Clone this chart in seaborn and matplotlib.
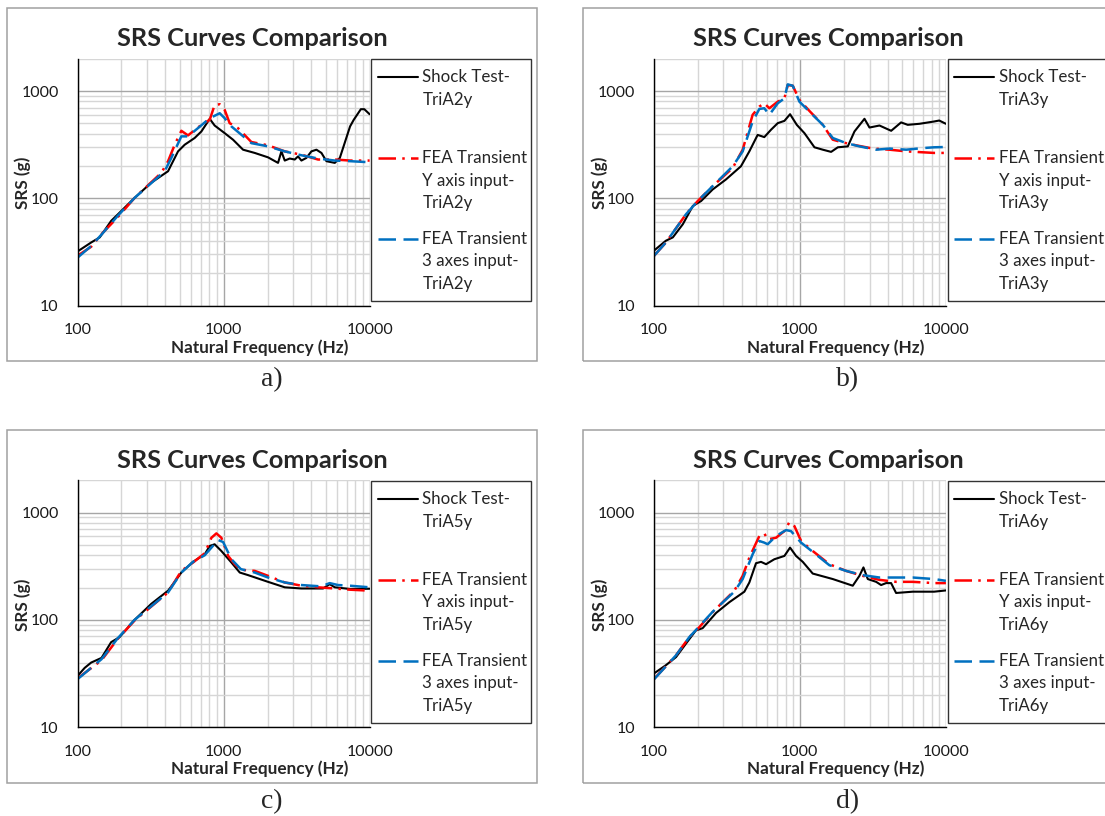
import numpy as np
import pandas as pd
import matplotlib
matplotlib.use("Agg")
import matplotlib.pyplot as plt
from matplotlib.patches import Rectangle
from matplotlib.lines import Line2D
from matplotlib.ticker import FixedLocator, FixedFormatter, NullFormatter
import seaborn as sns

# ---------------------------------------------------------------- data
# Shock response spectra, natural frequency (Hz) vs SRS (g)

# a) TriA2y
a_test_f = [100, 124, 142, 170, 189, 246, 320, 417, 439, 488, 542, 634, 705, 804, 869, 1018,
            1161, 1360, 1634, 2017, 2361, 2490, 2624, 2840, 3071, 3238, 3413, 3690, 3996,
            4325, 4680, 5063, 5776, 6253, 7350, 7780, 8710, 9200, 10000]
a_test_g = [32, 38.8, 43.3, 61.7, 71, 101, 140, 179, 206, 274, 316, 365, 420, 551, 477, 405,
            352, 284, 265, 241, 214, 274, 225, 235, 230, 246, 225, 238, 274,
            284, 265, 222, 214, 238, 468, 538, 677, 677, 608]
a_fy_f = [100, 124, 146, 189, 246, 375, 417, 463, 514, 571, 705, 804, 869, 942, 1018, 1101,
          1256, 1550, 2017, 2624, 3413, 4436, 5776, 7350, 10000]
a_fy_g = [29.2, 35.4, 46.4, 67, 101, 173, 222, 316, 426, 386, 484, 539, 741, 753, 667, 502,
          451, 335, 312, 274, 255, 230, 230, 225, 225]
a_f3_f = [100, 124, 146, 189, 246, 395, 439, 514, 571, 668, 804, 942, 1018, 1132, 1550, 2017,
          2624, 3413, 4436, 5776, 7350, 10000]
a_f3_g = [28, 36, 46, 69, 101, 179, 238, 378, 378, 451, 558, 621, 558, 468, 327, 305,
          274, 252, 235, 225, 222, 217]

# b) TriA3y
b_test_f = [100, 121, 135, 158, 185, 211, 253, 312, 395, 451, 514, 571, 635, 706, 784, 857,
            953, 1075, 1259, 1436, 1637, 1820, 2130, 2366, 2770, 2997, 3510, 4220, 4935,
            5480, 6590, 8300, 9000, 10000]
b_test_g = [32.5, 40.3, 43.3, 57.4, 84.9, 94.5, 121, 150, 199, 274, 390, 372, 436, 502, 527, 608,
            484, 405, 299, 284, 271, 299, 305, 420, 551, 457, 477, 426, 510,
            484, 495, 520, 531, 495]
b_fy_f = [100, 121, 166, 200, 253, 347, 406, 475, 528, 571, 618, 706, 784, 826, 894, 993,
          1162, 1436, 1680, 1967, 2428, 3160, 4110, 5350, 8300, 10000]
b_fy_g = [29, 38.8, 71, 94.5, 130, 192, 284, 600, 716, 769, 691, 796, 855, 1136, 1120, 826,
          653, 484, 352, 332, 312, 291, 284, 274, 265, 265]
b_f3_f = [100, 121, 166, 200, 253, 347, 406, 475, 528, 571, 618, 706, 784, 826, 894, 993,
          1162, 1436, 1680, 2075, 2560, 3330, 4110, 5350, 6950, 8300, 10000]
b_f3_g = [29, 38.8, 71, 94.5, 130, 199, 274, 520, 681, 691, 600, 769, 855, 1153, 1120, 796,
          643, 484, 365, 327, 305, 284, 291, 284, 294, 299, 301]

# c) TriA5y
c_test_f = [100, 112, 124, 146, 170, 194, 246, 320, 417, 463, 514, 618, 743, 804, 869, 966,
            1132, 1291, 1473, 2017, 2624, 3413, 4800, 5330, 5776, 7350, 10000]
c_test_g = [30, 35.7, 40, 44.2, 62, 69, 100, 141, 187, 226, 276, 347, 408, 488, 506, 438,
            342, 276, 261, 226, 201, 196, 196, 215, 201, 194, 195]
c_fy_f = [100, 146, 189, 246, 417, 514, 618, 743, 826, 893, 966, 1075, 1192, 1313, 1634,
          2017, 2624, 3413, 4436, 5776, 7350, 10000]
c_fy_g = [28.5, 42, 66.7, 98.6, 180, 286, 342, 417, 582, 639, 582, 394, 330, 293, 286,
          257, 223, 208, 201, 196, 191, 187]
c_f3_f = [100, 146, 189, 246, 417, 514, 618, 743, 826, 916, 993, 1132, 1313, 1634, 2017,
          2624, 3413, 4680, 5330, 6080, 7350, 10000]
c_f3_g = [28, 43, 67.6, 100, 180, 276, 347, 400, 471, 555, 531, 367, 297, 276, 248,
          223, 211, 205, 220, 211, 208, 201]

# d) TriA6y
d_test_f = [100, 121, 142, 166, 194, 216, 267, 329, 417, 451, 501, 542, 587, 669, 784, 857,
            942, 1047, 1225, 1680, 2303, 2558, 2725, 2918, 3330, 3600, 3894, 4215, 4560,
            5930, 8300, 10000]
d_test_g = [31.6, 37.8, 45, 60, 79.6, 83.7, 116, 146, 183, 223, 337, 347, 330, 367, 394, 471,
            394, 347, 270, 240, 208, 257, 308, 240, 226, 211, 220, 220, 178,
            183, 183, 188]
d_fy_f = [100, 142, 175, 205, 253, 356, 406, 451, 528, 571, 602, 687, 784, 848, 918, 1020,
          1225, 1592, 2070, 2693, 3506, 4560, 5930, 8300, 10000]
d_fy_g = [28, 46.8, 69, 85.5, 118, 187, 257, 380, 604, 639, 562, 582, 671, 813, 747, 543,
          438, 330, 286, 257, 236, 226, 226, 220, 220]
d_f3_f = [100, 142, 175, 205, 253, 356, 406, 475, 528, 571, 602, 687, 804, 870, 1020, 1225,
          1592, 2070, 2693, 3506, 4560, 5930, 8300, 10000]
d_f3_g = [27.8, 46.8, 69, 87, 119, 183, 240, 408, 543, 524, 506, 604, 686, 671, 524, 430,
          323, 286, 261, 248, 248, 248, 240, 231]

panel_letters = ["a)", "b)", "c)", "d)"]
panel_codes = ["TriA2y", "TriA3y", "TriA5y", "TriA6y"]
series_names = ["Shock Test", "FEA Transient Y axis input", "FEA Transient 3 axes input"]
legend_lines = [["Shock Test-", "{}"],
                ["FEA Transient", "Y axis input-", "{}"],
                ["FEA Transient", "3 axes input-", "{}"]]

x_major = [100, 1000, 10000]
x_minor = [200, 300, 400, 500, 600, 700, 800, 900,
           2000, 3000, 4000, 5000, 6000, 7000, 8000, 9000]
y_major = [10, 100, 1000]
y_minor = [20, 30, 40, 50, 60, 70, 80, 90,
           200, 300, 400, 500, 600, 700, 800, 900, 2000]

panel_data = [
    [(a_test_f, a_test_g), (a_fy_f, a_fy_g), (a_f3_f, a_f3_g)],
    [(b_test_f, b_test_g), (b_fy_f, b_fy_g), (b_f3_f, b_f3_g)],
    [(c_test_f, c_test_g), (c_fy_f, c_fy_g), (c_f3_f, c_f3_g)],
    [(d_test_f, d_test_g), (d_fy_f, d_fy_g), (d_f3_f, d_f3_g)],
]

# ---------------------------------------------------------------- styles
styles = [
    dict(color="black", lw=1.5, linestyle="-"),
    dict(color="#FF0000", lw=1.8, linestyle=(0, (7, 2.5, 1, 2.5))),
    dict(color="#0070C0", lw=1.8, linestyle=(0, (7, 3))),
]

sns.set_style("white")
plt.rcParams["font.family"] = ["Lato", "DejaVu Sans"]

W, H = 1105, 816
fig = plt.figure(figsize=(W / 100, H / 100), dpi=100)
fig.patch.set_facecolor("white")


def fx(px):
    return px / W


def fy(py):
    return 1 - py / H


DX, DY = 576.3, 421.5
legend_y = [[77.3, 100.0], [158.3, 181.0, 203.3], [239.0, 261.3, 284.0]]

for i in range(4):
    col, row = i % 2, i // 2
    ox, oy = col * DX, row * DY

    # chart-area frame
    fig.add_artist(Rectangle((fx(7.1 + ox), fy(361 + oy)), (536.8 - 7.1) / W, (361 - 8.3) / H,
                             transform=fig.transFigure, fill=False, ec="#A0A0A0", lw=1.1))

    ax = fig.add_axes([fx(77.5 + ox), fy(305.7 + oy), (369.6 - 77.5) / W, (305.7 - 58.7) / H])
    ax.set_xscale("log")
    ax.set_yscale("log")

    for (f, g), name, st in zip(panel_data[i], series_names, styles):
        df = pd.DataFrame({"freq": f, "srs": g})
        sns.lineplot(data=df, x="freq", y="srs", ax=ax, estimator=None, sort=False,
                     color=st["color"], lw=st["lw"], linestyle=st["linestyle"], label=None)

    ax.set_xlim(100, 10000)
    ax.set_ylim(10, 2000)
    ax.xaxis.set_major_locator(FixedLocator(x_major))
    ax.xaxis.set_major_formatter(FixedFormatter([str(v) for v in x_major]))
    ax.xaxis.set_minor_locator(FixedLocator(x_minor))
    ax.xaxis.set_minor_formatter(NullFormatter())
    ax.yaxis.set_major_locator(FixedLocator(y_major))
    ax.yaxis.set_major_formatter(FixedFormatter([str(v) for v in y_major]))
    ax.yaxis.set_minor_locator(FixedLocator(y_minor))
    ax.yaxis.set_minor_formatter(NullFormatter())

    ax.grid(True, which="major", color="#A6A6A6", lw=1.0)
    ax.grid(True, which="minor", color="#D6D6D6", lw=1.0)
    ax.set_axisbelow(True)
    for s in ["top", "right"]:
        ax.spines[s].set_visible(False)
    for s in ["left", "bottom"]:
        ax.spines[s].set_color("black")
        ax.spines[s].set_linewidth(1.0)
    ax.tick_params(which="major", direction="out", length=4, width=1.0, color="black",
                   labelsize=11.5, labelcolor="#1a1a1a")
    ax.tick_params(axis="y", which="major", pad=9.5)
    ax.tick_params(axis="x", which="major", pad=8.5)
    ax.tick_params(which="minor", length=0)

    ax.set_xlabel("Natural Frequency (Hz)", fontsize=12.3, fontweight="bold")
    ax.xaxis.set_label_coords(fx(259.3 + ox), fy(347.7 + oy), transform=fig.transFigure)
    ax.xaxis.label.set_verticalalignment("center")
    ax.set_ylabel("SRS (g)", fontsize=12.3, fontweight="bold")
    ax.yaxis.set_label_coords(fx(23 + ox), fy(183 + oy), transform=fig.transFigure)
    ax.yaxis.label.set_verticalalignment("center")

    fig.text(fx(252 + ox), fy(39 + oy), "SRS Curves Comparison", ha="center", va="center",
             fontsize=18.3, fontweight="bold")

    # legend box
    fig.add_artist(Rectangle((fx(371.4 + ox), fy(301 + oy)), (531.4 - 371.4) / W, (301 - 59.3) / H,
                             transform=fig.transFigure, fill=True, fc="white", ec="#333333", lw=1.0))
    for st, lines, ys in zip(styles, legend_lines, legend_y):
        fig.add_artist(Line2D([fx(377.9 + ox), fx(417.9 + ox)], [fy(ys[0] + oy)] * 2,
                              transform=fig.transFigure, color=st["color"], lw=st["lw"],
                              linestyle=st["linestyle"]))
        for txt, yy in zip(lines, ys):
            fig.text(fx(422.5 + ox), fy(yy + oy), txt.format(panel_codes[i]), ha="left",
                     va="center", fontsize=12.2)

    fig.text(fx(271.5 + ox), fy(380 + oy), panel_letters[i], ha="center", va="center",
             fontsize=20, family=["Liberation Serif", "DejaVu Serif"])

fig.savefig("out.png", dpi=100)
